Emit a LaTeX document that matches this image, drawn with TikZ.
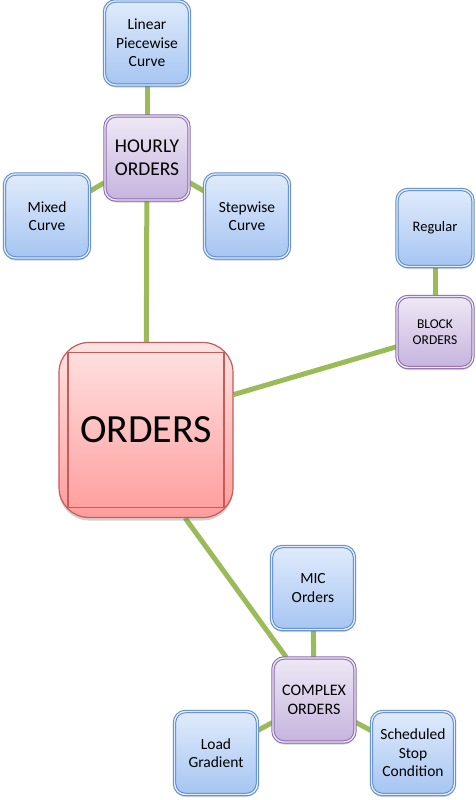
\documentclass[tikz,border=0pt]{standalone}
\usepackage{fontspec}
\setmainfont{Carlito}
\usetikzlibrary{shadows,backgrounds}
\definecolor{edgegreen}{HTML}{9BBB59}
\definecolor{blueb}{HTML}{5B8ACB}
\definecolor{bluetop}{HTML}{E0EBFB}
\definecolor{bluebot}{HTML}{A6C5F2}
\definecolor{purpb}{HTML}{8A6AAE}
\definecolor{purptop}{HTML}{EEE8F5}
\definecolor{purpbot}{HTML}{C6B4DE}
\definecolor{redb}{HTML}{C85A58}
\definecolor{redtop}{HTML}{FFE3E3}
\definecolor{redbot}{HTML}{FF9C9C}
\tikzset{
  box/.style={rectangle, rounded corners=11pt, inner sep=0pt, align=center,
    drop shadow={shadow xshift=0pt, shadow yshift=-2.5pt, opacity=0.3, fill=black!60},
    line width=1pt, double distance=1.4pt},
  leaf/.style={box, draw=blueb, double=bluetop, top color=bluetop, bottom color=bluebot,
    minimum width=85pt, minimum height=84pt, font=\fontsize{15.5}{18.5}\selectfont},
  mid/.style={box, draw=purpb, double=purptop, top color=purptop, bottom color=purpbot,
    minimum width=84pt, minimum height=84pt},
  root/.style={rectangle, rounded corners=30pt, inner sep=0pt, draw=redb, line width=1.2pt,
    top color=redtop, bottom color=redbot, minimum width=174pt, minimum height=175pt,
    font=\fontsize{40}{46}\selectfont,
    drop shadow={shadow xshift=0pt, shadow yshift=-3pt, opacity=0.3, fill=black!60},
    path picture={\draw[redb, line width=1.2pt, sharp corners]
      ([shift={(9pt,-10pt)}]path picture bounding box.north west) rectangle
      ([shift={(-9pt,10pt)}]path picture bounding box.south east);}},
  link/.style={draw=edgegreen, line width=5pt}
}
\begin{document}
\begin{tikzpicture}[x=1pt, y=-1pt]
\useasboundingbox (0,0) rectangle (475,800);
\node[leaf] (lin) at (147,43) {Linear\\Piecewise\\Curve};
\node[mid, font=\fontsize{19.5}{23}\selectfont] (hourly) at (147,158) {HOURLY\\ORDERS};
\node[leaf] (mixed) at (47,216) {Mixed\\Curve};
\node[leaf] (stepw) at (247,216) {Stepwise\\Curve};
\node[leaf, minimum width=76pt, minimum height=77pt, font=\fontsize{14.5}{17}\selectfont] (regular) at (435,228) {Regular};
\node[mid, minimum width=76pt, minimum height=71pt, font=\fontsize{13.5}{16.5}\selectfont] (block) at (435,332) {BLOCK\\ORDERS};
\node[root] (orders) at (146,430) {ORDERS};
\node[leaf, minimum width=83pt, minimum height=83pt] (mic) at (313,588) {MIC\\Orders};
\node[mid, minimum width=82pt, font=\fontsize{16}{19.5}\selectfont] (complex) at (314,700) {COMPLEX\\ORDERS};
\node[leaf, minimum width=83pt, minimum height=83pt] (load) at (216,753) {Load\\Gradient};
\node[leaf, minimum width=83pt, minimum height=83pt] (sched) at (413,753) {Scheduled\\Stop\\Condition};
\begin{scope}[on background layer]
\draw[link] (lin) -- (hourly);
\draw[link] (mixed) -- (hourly);
\draw[link] (stepw) -- (hourly);
\draw[link] (hourly) -- (orders);
\draw[link] (regular) -- (block);
\draw[link] (orders.22) -- (block.201);
\draw[link] (orders.-66) -- (complex.123);
\draw[link] (mic) -- (complex);
\draw[link] (load) -- (complex);
\draw[link] (sched) -- (complex);
\end{scope}
\end{tikzpicture}
\end{document}
